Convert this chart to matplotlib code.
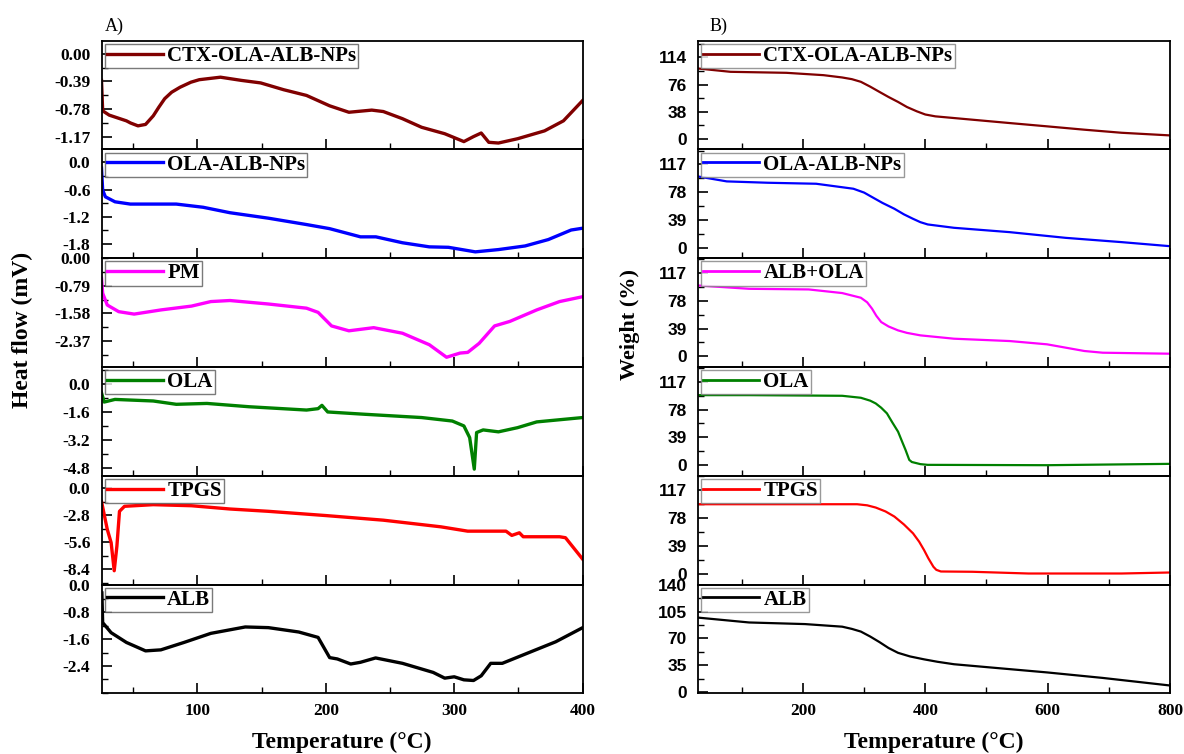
import matplotlib.pyplot as plt
from matplotlib.ticker import FixedLocator, AutoMinorLocator, FormatStrFormatter

plt.rcParams['font.family'] = ['Liberation Serif', 'DejaVu Serif']
plt.rcParams['font.weight'] = 'bold'
plt.rcParams['axes.labelweight'] = 'bold'
plt.rcParams['axes.unicode_minus'] = False

# ---------------- DSC data (A) ----------------
dsc_ctx_t = [25.4, 26.3, 31.4, 44.8, 48, 53.8, 59.7, 65.7, 70, 74.6, 80, 86.6, 95, 101.5, 118, 134.4,
             149.3, 167.2, 185, 203, 218, 235.8, 244.8, 259.7, 274.6, 292.6, 307.5, 315, 321,
             326.9, 334.4, 349.3, 370.3, 385, 400]
dsc_ctx_v = [-0.375, -0.80, -0.86, -0.94, -0.97, -1.01, -0.99, -0.87, -0.75, -0.63, -0.54, -0.47,
             -0.40, -0.365, -0.33, -0.375, -0.41, -0.505, -0.585, -0.73, -0.82, -0.79, -0.81,
             -0.91, -1.03, -1.12, -1.23, -1.16, -1.11, -1.24, -1.25, -1.19, -1.08, -0.94, -0.655]

dsc_nps_t = [25.4, 26.3, 28.4, 35.9, 47.8, 83.6, 104.5, 125.4, 155.3, 185, 203, 227, 239, 259.7,
             280.6, 295.5, 316.4, 334.4, 355.2, 373.2, 391, 400]
dsc_nps_v = [-0.13, -0.61, -0.76, -0.87, -0.92, -0.92, -0.99, -1.11, -1.23, -1.37, -1.46, -1.64,
             -1.64, -1.77, -1.86, -1.87, -1.97, -1.92, -1.84, -1.70, -1.49, -1.45]

dsc_pm_t = [25.4, 26.3, 29.9, 38.8, 50.8, 71.7, 95.5, 110.5, 125.4, 155.3, 185, 194, 204.5, 218,
            237.3, 259.7, 280.6, 294, 304.5, 310.5, 319.4, 331.4, 343.3, 364.2, 382, 400]
dsc_pm_v = [-0.57, -1.00, -1.34, -1.53, -1.60, -1.48, -1.37, -1.24, -1.21, -1.31, -1.43, -1.55,
            -1.94, -2.08, -1.99, -2.15, -2.48, -2.84, -2.72, -2.70, -2.44, -1.94, -1.81, -1.48,
            -1.24, -1.10]

dsc_ola_t = [25.4, 27.5, 35.9, 65.7, 83.6, 107.5, 140.3, 185, 194, 197, 201.5, 229.9, 274.6,
             298.5, 307.5, 312, 315.6, 317.4, 322.5, 334.4, 349.3, 364.2, 400]
dsc_ola_v = [-0.48, -1.01, -0.86, -0.95, -1.14, -1.09, -1.28, -1.47, -1.39, -1.20, -1.58, -1.71,
             -1.90, -2.10, -2.38, -3.05, -4.86, -2.76, -2.61, -2.72, -2.48, -2.15, -1.90]

dsc_tpgs_t = [25.4, 29.9, 32.9, 35.3, 37.4, 39.4, 43.3, 65.7, 95.5, 125.4, 155.3, 200, 244.8,
              289.6, 310.5, 340.3, 344.8, 350.7, 353.7, 382, 386.6, 400]
dsc_tpgs_v = [-1.37, -4.28, -5.65, -8.57, -6.0, -2.40, -1.88, -1.71, -1.82, -2.16, -2.40, -2.84,
              -3.32, -4.01, -4.46, -4.46, -4.90, -4.63, -5.04, -5.04, -5.14, -7.37]

dsc_alb_t = [25.7, 26.3, 32.9, 44.8, 59.7, 71.6, 89.6, 110.5, 137.3, 155.3, 179, 194, 203, 209,
             219.4, 226.9, 238.8, 259.7, 283.6, 292.6, 300, 307.5, 315, 321, 328.4, 337.4,
             358.2, 379, 400]
dsc_alb_v = [-0.23, -1.11, -1.41, -1.70, -1.95, -1.92, -1.70, -1.43, -1.24, -1.26, -1.39, -1.55,
             -2.15, -2.19, -2.34, -2.29, -2.16, -2.32, -2.59, -2.76, -2.72, -2.81, -2.83, -2.69,
             -2.32, -2.32, -2.0, -1.68, -1.26]

# ---------------- TGA data (B) ----------------
tga_ctx_t = [28, 81.6, 173, 233.8, 264, 280, 294.7, 310, 325, 340, 355.5, 370, 386, 400, 416.4,
             477, 538, 599, 660, 720.8, 800]
tga_ctx_v = [98.5, 93.8, 92.4, 89.1, 85.9, 83.5, 79.8, 73, 65.7, 58.5, 51.6, 44.5, 38.5, 34, 31.4,
             26.7, 22, 17.4, 12.7, 8.4, 4.7]

tga_nps_t = [28, 75.5, 142.5, 221.6, 282.5, 300, 313, 330, 349.5, 365, 380, 392, 404, 446.9, 538,
             629.5, 720.8, 800]
tga_nps_v = [100.2, 93.2, 91.3, 89.9, 82.9, 77.5, 71.2, 63, 54.8, 47, 40.7, 36, 32.8, 28.1, 22,
             14, 8, 2.3]

tga_mix_t = [28, 112, 209.4, 264.2, 294.7, 305, 313, 320, 328, 340, 355.5, 370, 392, 446.9, 538,
             599, 660, 690, 800]
tga_mix_v = [99.7, 95, 94.1, 89, 82.4, 76, 67, 57, 48.2, 42, 36.5, 33, 29.5, 24.8, 21.5, 16.9,
             7.5, 5.1, 3.7]

tga_ola_t = [28, 112, 264.2, 294.7, 310, 319, 328, 337.3, 346, 355.5, 362, 367.7, 373.8, 378, 386,
             392, 404, 599, 800]
tga_ola_v = [98.3, 98.3, 97.4, 94.6, 90.5, 86.6, 80.5, 72.6, 60, 46.8, 33, 21.1, 7.0, 4, 2.3, 1,
             0, -0.5, 1.4]

tga_tpgs_t = [28, 288.6, 305, 319, 335, 349.5, 365, 380, 390, 398, 405, 413.3, 418, 425.5, 477,
              568.6, 720.8, 800]
tga_tpgs_v = [97, 97, 95.5, 92.4, 87, 79.9, 69, 56.6, 45, 33.4, 22, 10.2, 6, 3.7, 3.3, 0.9, 0.9,
              2.3]

tga_alb_t = [28, 112, 203.3, 264.2, 280, 294.7, 310, 325, 340, 355.5, 375, 398, 420, 446.9, 507.8,
             599, 690, 800]
tga_alb_v = [97.3, 90.9, 88.8, 85.4, 82.5, 79, 72.5, 65.3, 57.5, 51.2, 46.5, 42.7, 39.5, 36.3, 32,
             25.6, 18.4, 8.5]

names_a = ['CTX-OLA-ALB-NPs', 'OLA-ALB-NPs', 'PM', 'OLA', 'TPGS', 'ALB']
names_b = ['CTX-OLA-ALB-NPs', 'OLA-ALB-NPs', 'ALB+OLA', 'OLA', 'TPGS', 'ALB']
colors = ['#800000', '#0000ff', '#ff00ff', '#008000', '#ff0000', '#000000']

dsc = [(dsc_ctx_t, dsc_ctx_v), (dsc_nps_t, dsc_nps_v), (dsc_pm_t, dsc_pm_v),
       (dsc_ola_t, dsc_ola_v), (dsc_tpgs_t, dsc_tpgs_v), (dsc_alb_t, dsc_alb_v)]
tga = [(tga_ctx_t, tga_ctx_v), (tga_nps_t, tga_nps_v), (tga_mix_t, tga_mix_v),
       (tga_ola_t, tga_ola_v), (tga_tpgs_t, tga_tpgs_v), (tga_alb_t, tga_alb_v)]

dsc_ticks = [[0, -0.39, -0.78, -1.17], [0, -0.6, -1.2, -1.8], [0, -0.79, -1.58, -2.37],
             [0, -1.6, -3.2, -4.8], [0, -2.8, -5.6, -8.4], [0, -0.8, -1.6, -2.4]]
dsc_fmt = ['%.2f', '%.1f', '%.2f', '%.1f', '%.1f', '%.1f']
dsc_lims = [(-1.34, 0.18), (-2.11, 0.28), (-3.12, 0.005), (-5.24, 1.0), (-10.0, 1.29), (-3.21, 0.02)]

tga_ticks = [[0, 38, 76, 114], [0, 39, 78, 117], [0, 39, 78, 117],
             [0, 39, 78, 117], [0, 39, 78, 117], [0, 35, 70, 105, 140]]
tga_lims = [(-15, 137.4), (-14.6, 138), (-15, 138), (-15.4, 138), (-14.4, 136.5), (-1.7, 140.5)]

W, H = 1184, 754
fig = plt.figure(figsize=(W / 100, H / 100), dpi=100)
top, bottom = 40.7, 693.3
ph = (bottom - top) / 6


def style(ax, xlim, xmajor, ticks, lim, fmt, ytickfont, is_last):
    ax.set_xlim(*xlim)
    ax.set_ylim(*lim)
    ax.yaxis.set_major_locator(FixedLocator(ticks))
    ax.yaxis.set_minor_locator(AutoMinorLocator(2))
    ax.yaxis.set_major_formatter(FormatStrFormatter(fmt))
    ax.xaxis.set_major_locator(FixedLocator(xmajor))
    ax.xaxis.set_minor_locator(AutoMinorLocator(2))
    ax.tick_params(which='both', direction='in', top=False, right=False)
    ax.tick_params(which='major', length=7, width=1.2)
    ax.tick_params(which='minor', length=4, width=1.0)
    ax.tick_params(axis='y', pad=8)
    ax.tick_params(axis='x', pad=7, labelsize=12.5, labelbottom=is_last)
    for lab in ax.get_yticklabels():
        lab.set_fontfamily(ytickfont)
        lab.set_fontweight('bold')
        lab.set_fontsize(12.5)
    for sp in ax.spines.values():
        sp.set_linewidth(1.3)
    ax.set_facecolor('none')


def add_legend(ax, edge):
    leg = ax.legend(loc='upper left', fontsize=15, frameon=True, fancybox=False,
                    borderpad=0.1, borderaxespad=0.15, handlelength=2.7, handletextpad=0.2)
    leg.get_frame().set_edgecolor(edge)
    leg.get_frame().set_linewidth(1.0)
    return leg


axes_a, axes_b = [], []
for i in range(6):
    y0 = 1 - (top + (i + 1) * ph) / H
    ax = fig.add_axes([101.5 / W, y0, (582.7 - 101.5) / W, ph / H])
    t, v = dsc[i]
    ax.plot(t, v, color=colors[i], lw=2.4, label=names_a[i])
    style(ax, (25.4, 400), [100, 200, 300, 400], dsc_ticks[i], dsc_lims[i], dsc_fmt[i],
          'Liberation Serif', i == 5)
    add_legend(ax, '0.35')
    axes_a.append(ax)

    ax = fig.add_axes([697.7 / W, y0, (1170 - 697.7) / W, ph / H])
    t, v = tga[i]
    ax.plot(t, v, color=colors[i], lw=1.6, label=names_b[i])
    style(ax, (28, 800), [200, 400, 600, 800], tga_ticks[i], tga_lims[i], '%d',
          'Liberation Sans', i == 5)
    leg = add_legend(ax, '0.5')
    for line in leg.get_lines():
        line.set_linewidth(2.0)
    axes_b.append(ax)

axes_a[-1].set_xlabel('Temperature (°C)', fontsize=17, fontweight='bold', labelpad=9)
axes_b[-1].set_xlabel('Temperature (°C)', fontsize=17, fontweight='bold', labelpad=9)
fig.text(22 / W, 1 - 330 / H, 'Heat flow (mV)', rotation=90, fontsize=17,
         fontweight='bold', ha='center', va='center')
fig.text(630 / W, 1 - 325 / H, 'Weight (%)', rotation=90, fontsize=16,
         fontweight='bold', ha='center', va='center')
fig.text(105 / W, 1 - 26 / H, 'A)', fontsize=13, fontweight='normal', ha='left', va='center')
fig.text(710 / W, 1 - 26 / H, 'B)', fontsize=13, fontweight='normal', ha='left', va='center')

fig.savefig('out.png', dpi=100)
